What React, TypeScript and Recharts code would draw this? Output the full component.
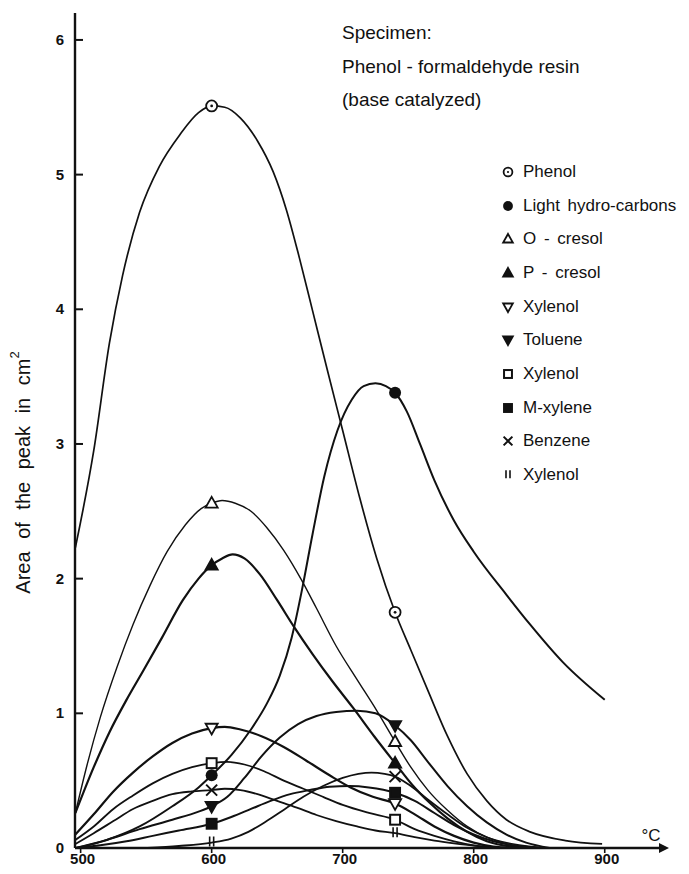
import React from "react";
import { LineChart, Line, XAxis, YAxis, Legend, ReferenceDot } from "recharts";

const FONT = "'Liberation Sans', Arial, Helvetica, sans-serif";
const INK = "#111";

const tempTicks = [500, 600, 700, 800, 900];
const areaTicks = [0, 1, 2, 3, 4, 5, 6];
const markerTemps = [600, 740];

const titleLines = ["Specimen:", "Phenol - formaldehyde resin", "(base catalyzed)"];

const legendNames = [
  "Phenol",
  "Light hydro-carbons",
  "O - cresol",
  "P - cresol",
  "Xylenol",
  "Toluene",
  "Xylenol",
  "M-xylene",
  "Benzene",
  "Xylenol",
];
const legendMarks = [
  "circleDot",
  "circle",
  "triUp",
  "triUpFill",
  "triDown",
  "triDownFill",
  "square",
  "squareFill",
  "cross",
  "dbl",
];

// curves: [temperature °C, peak area cm²]
const phenol = [
  [496, 2.23], [510, 2.95], [522, 3.75], [532, 4.25], [545, 4.72], [560, 5.06],
  [576, 5.3], [590, 5.46], [600, 5.51], [610, 5.5], [622, 5.42], [635, 5.25],
  [647, 5.02], [657, 4.74], [667, 4.38], [677, 3.99], [688, 3.56], [700, 3.1],
  [713, 2.6], [726, 2.15], [740, 1.75], [752, 1.47], [765, 1.17], [780, 0.83],
  [795, 0.55], [810, 0.35], [825, 0.21], [843, 0.12], [870, 0.055], [898, 0.03],
];
const lightHC = [
  [497, 0.0], [520, 0.06], [545, 0.16], [570, 0.31], [590, 0.45], [600, 0.54],
  [615, 0.69], [630, 0.88], [642, 1.07], [652, 1.28], [661, 1.56], [669, 1.92],
  [677, 2.33], [686, 2.76], [696, 3.1], [707, 3.33], [716, 3.43], [725, 3.45],
  [733, 3.43], [740, 3.38], [749, 3.24], [759, 3.0], [770, 2.73], [785, 2.43],
  [800, 2.2], [825, 1.88], [843, 1.66], [868, 1.38], [900, 1.1],
];
const oCresol = [
  [496, 0.26], [505, 0.62], [515, 0.97], [528, 1.35], [540, 1.66], [553, 1.95],
  [566, 2.2], [580, 2.4], [592, 2.52], [600, 2.56], [608, 2.58], [618, 2.56],
  [630, 2.5], [642, 2.38], [655, 2.21], [668, 2.0], [680, 1.78], [695, 1.5],
  [711, 1.25], [726, 1.02], [740, 0.79], [752, 0.6], [765, 0.43], [780, 0.28],
  [795, 0.16], [810, 0.08], [830, 0.03], [855, 0.0],
];
const pCresol = [
  [496, 0.26], [510, 0.6], [522, 0.86], [535, 1.1], [548, 1.32], [562, 1.56],
  [578, 1.84], [590, 2.0], [600, 2.1], [608, 2.15], [616, 2.18], [625, 2.15],
  [637, 2.03], [650, 1.84], [663, 1.64], [677, 1.44], [692, 1.24], [708, 1.04],
  [724, 0.83], [740, 0.63], [753, 0.47], [767, 0.33], [780, 0.22], [795, 0.12],
  [810, 0.05], [830, 0.01], [850, 0.0],
];
const xylenolTri = [
  [496, 0.1], [510, 0.25], [525, 0.42], [540, 0.56], [555, 0.68], [570, 0.78],
  [585, 0.85], [600, 0.89], [610, 0.9], [622, 0.88], [638, 0.83], [655, 0.75],
  [672, 0.65], [690, 0.54], [706, 0.45], [723, 0.38], [740, 0.33], [755, 0.25],
  [770, 0.16], [785, 0.09], [800, 0.04], [815, 0.01], [830, 0.0],
];
const toluene = [
  [496, 0.0], [520, 0.06], [545, 0.14], [570, 0.21], [590, 0.27], [600, 0.31],
  [612, 0.38], [625, 0.52], [638, 0.68], [652, 0.82], [666, 0.92], [680, 0.98],
  [695, 1.01], [711, 1.02], [725, 1.0], [740, 0.91], [752, 0.8], [765, 0.64],
  [780, 0.46], [795, 0.31], [810, 0.19], [825, 0.1], [840, 0.04], [858, 0.0],
];
const xylenolSq = [
  [496, 0.06], [510, 0.16], [525, 0.29], [540, 0.39], [555, 0.48], [570, 0.55],
  [585, 0.6], [600, 0.63], [612, 0.64], [625, 0.62], [640, 0.57], [655, 0.5],
  [670, 0.44], [685, 0.38], [700, 0.32], [720, 0.26], [740, 0.21], [755, 0.14],
  [770, 0.09], [785, 0.05], [800, 0.02], [820, 0.0],
];
const mXylene = [
  [496, 0.0], [515, 0.02], [535, 0.05], [555, 0.09], [575, 0.13], [600, 0.18],
  [615, 0.23], [630, 0.29], [645, 0.35], [660, 0.4], [675, 0.43], [690, 0.455],
  [705, 0.46], [720, 0.45], [740, 0.41], [755, 0.35], [770, 0.26], [785, 0.17],
  [800, 0.1], [815, 0.05], [830, 0.02], [850, 0.0],
];
const benzeneA = [
  [496, 0.03], [510, 0.11], [525, 0.2], [540, 0.29], [555, 0.35], [570, 0.4],
  [585, 0.42], [600, 0.43], [610, 0.44], [622, 0.43], [635, 0.4], [650, 0.35],
  [665, 0.3], [680, 0.245], [695, 0.2], [711, 0.16], [725, 0.13], [740, 0.11],
  [755, 0.08], [770, 0.055], [785, 0.035], [800, 0.018], [815, 0.006], [830, 0.0],
];
const benzeneB = [
  [551, 0.0], [575, 0.015], [600, 0.04], [615, 0.07], [628, 0.12], [642, 0.2],
  [656, 0.29], [670, 0.38], [685, 0.46], [700, 0.52], [712, 0.55], [722, 0.56],
  [732, 0.55], [740, 0.53], [752, 0.46], [765, 0.36], [780, 0.25], [795, 0.15],
  [810, 0.08], [825, 0.03], [845, 0.0],
];

const series = [
  { id: "phenol", pts: phenol, marks: ["circleDot", "circleDot"], w: 1.7 },
  { id: "lightHC", pts: lightHC, marks: ["circle", "circle"], w: 2 },
  { id: "oCresol", pts: oCresol, marks: ["triUp", "triUp"], w: 1.4 },
  { id: "pCresol", pts: pCresol, marks: ["triUpFill", "triUpFill"], w: 2.2 },
  { id: "xylenolTri", pts: xylenolTri, marks: ["triDown", "triDown"], w: 2.2 },
  { id: "toluene", pts: toluene, marks: ["triDownFill", "triDownFill"], w: 2 },
  { id: "xylenolSq", pts: xylenolSq, marks: ["square", "square"], w: 1.8 },
  { id: "mXylene", pts: mXylene, marks: ["squareFill", "squareFill"], w: 2 },
  { id: "benzeneA", pts: benzeneA, marks: ["cross", "dbl"], w: 1.8 },
  { id: "benzeneB", pts: benzeneB, marks: ["dbl", "cross"], w: 1.8 },
];

const MarkerShape = ({ kind, cx, cy, k = 1 }: { kind: string; cx: number; cy: number; k?: number }) => {
  const s = 5.5 * k;
  switch (kind) {
    case "circleDot":
      return (
        <g>
          <circle cx={cx} cy={cy} r={s} fill="#fff" stroke={INK} strokeWidth={1.8} />
          <circle cx={cx} cy={cy} r={1.4 * k} fill={INK} />
        </g>
      );
    case "circle":
      return <circle cx={cx} cy={cy} r={s + 0.5} fill={INK} />;
    case "triUp":
    case "triUpFill": {
      const p = `${cx},${cy - s * 1.15} ${cx + s * 1.1},${cy + s * 0.8} ${cx - s * 1.1},${cy + s * 0.8}`;
      return <polygon points={p} fill={kind === "triUp" ? "#fff" : INK} stroke={INK} strokeWidth={1.8} />;
    }
    case "triDown":
    case "triDownFill": {
      const p = `${cx},${cy + s * 1.15} ${cx + s * 1.1},${cy - s * 0.8} ${cx - s * 1.1},${cy - s * 0.8}`;
      return <polygon points={p} fill={kind === "triDown" ? "#fff" : INK} stroke={INK} strokeWidth={1.8} />;
    }
    case "square":
    case "squareFill":
      return (
        <rect
          x={cx - s * 0.9}
          y={cy - s * 0.9}
          width={s * 1.8}
          height={s * 1.8}
          fill={kind === "square" ? "#fff" : INK}
          stroke={INK}
          strokeWidth={2}
        />
      );
    case "cross":
      return (
        <path
          d={`M${cx - s},${cy - s}L${cx + s},${cy + s}M${cx + s},${cy - s}L${cx - s},${cy + s}`}
          stroke={INK}
          strokeWidth={2}
        />
      );
    default:
      return (
        <path
          d={`M${cx - 2},${cy - 6 * k}V${cy + 4 * k}M${cx + 2},${cy - 6 * k}V${cy + 4 * k}`}
          stroke={INK}
          strokeWidth={1.6}
        />
      );
  }
};

const dotFor = (marks: string[]) => (props: any) => {
  const { cx, cy, payload, index } = props;
  const i = markerTemps.indexOf(payload.t);
  if (i < 0 || cx == null || cy == null) return <g key={`n${index}`} />;
  return (
    <g key={`m${index}`}>
      <MarkerShape kind={marks[i]} cx={cx} cy={cy} />
    </g>
  );
};

const YTick = (props: any) => {
  const { x, y, payload } = props;
  return (
    <g>
      {payload.value > 0 && <line x1={x} x2={x + 8} y1={y} y2={y} stroke={INK} strokeWidth={2} />}
      <text x={x - 15} y={y + 5} textAnchor="middle" fontFamily={FONT} fontSize={15} fontWeight="bold" fill={INK}>
        {payload.value}
      </text>
    </g>
  );
};

const XTick = (props: any) => {
  const { x, y, payload } = props;
  return (
    <g>
      <line x1={x} x2={x} y1={y} y2={y + 5} stroke={INK} strokeWidth={1.6} />
      <text x={x + 2} y={y + 16} textAnchor="middle" fontFamily={FONT} fontSize={15} fontWeight="bold" fill={INK}>
        {payload.value}
      </text>
    </g>
  );
};

const YTitle = (props: any) => {
  const vb = props.viewBox || { x: 7, y: 5, width: 60, height: 835 };
  const cx = vb.x + vb.width - 52;
  const cy = vb.y + vb.height / 2 + 42;
  return (
    <text
      x={cx}
      y={cy}
      transform={`rotate(-90 ${cx} ${cy})`}
      textAnchor="middle"
      dominantBaseline="central"
      fontFamily={FONT}
      fontSize={20}
      wordSpacing={7}
      fill={INK}
    >
      Area of the peak in cm
      <tspan dy={-9} fontSize={13}>
        2
      </tspan>
    </text>
  );
};

const ArrowHead = (props: any) => {
  const { cx, cy } = props;
  return (
    <g>
      <polygon points={`${cx + 4},${cy} ${cx - 6},${cy - 5} ${cx - 6},${cy + 5}`} fill={INK} />
      <text x={cx - 14} y={cy - 7} textAnchor="middle" fontFamily={FONT} fontSize={17} fill={INK}>
        °C
      </text>
    </g>
  );
};

const LegendBox = () => (
  <div style={{ fontFamily: FONT, fontSize: 17, color: INK }}>
    {legendNames.map((name, i) => (
      <div
        key={i}
        style={{ display: "flex", alignItems: "center", height: 33.7, whiteSpace: "nowrap", wordSpacing: 3 }}
      >
        <svg width={16} height={16} style={{ marginRight: 7, flex: "none" }}>
          <MarkerShape kind={legendMarks[i]} cx={8} cy={8} k={0.8} />
        </svg>
        <span>{name}</span>
      </div>
    ))}
  </div>
);

export default function App() {
  return (
    <div style={{ position: "relative", width: 673, height: 866, marginBottom: -8 }}>
      <LineChart width={673} height={866} margin={{ top: 5, right: 16, bottom: 0, left: 7 }}>
        <XAxis
          dataKey="t"
          type="number"
          domain={[495.7, 946]}
          ticks={tempTicks}
          allowDataOverflow
          height={26}
          tickSize={0}
          tickMargin={0}
          tickLine={false}
          axisLine={{ stroke: INK, strokeWidth: 2.4 }}
          tick={<XTick />}
        />
        <YAxis
          type="number"
          domain={[0, 6.2]}
          ticks={areaTicks}
          allowDataOverflow
          width={60}
          tickSize={0}
          tickMargin={0}
          tickLine={false}
          axisLine={{ stroke: INK, strokeWidth: 2.4 }}
          tick={<YTick />}
          label={<YTitle />}
        />
        {series.map((s) => (
          <Line
            key={s.id}
            name={s.id}
            data={s.pts.map(([t, v]) => ({ t, v }))}
            dataKey="v"
            type="monotone"
            stroke={INK}
            strokeWidth={s.w}
            dot={dotFor(s.marks)}
            activeDot={false}
            legendType="none"
            isAnimationActive={false}
          />
        ))}
        <ReferenceDot x={946} y={0} ifOverflow="visible" shape={<ArrowHead />} />
        <Legend
          verticalAlign="middle"
          layout="horizontal"
          wrapperStyle={{ top: 147, left: 492, width: 190 }}
          content={() => <LegendBox />}
        />
      </LineChart>
      <div
        style={{
          position: "absolute",
          left: 334,
          top: 8,
          fontFamily: FONT,
          fontSize: 19,
          lineHeight: "33.5px",
          color: INK,
          whiteSpace: "nowrap",
        }}
      >
        {titleLines.map((l, i) => (
          <div key={i}>{l}</div>
        ))}
      </div>
    </div>
  );
}
